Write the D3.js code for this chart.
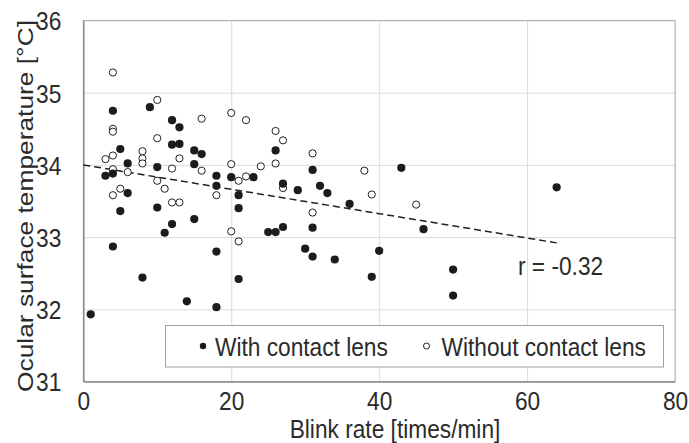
<!DOCTYPE html>
<html>
<head>
<meta charset="utf-8">
<script src="https://cdn.jsdelivr.net/npm/d3@7"></script>
<style>
  body { margin: 0; background: #fff; }
  text { font-family: "Liberation Sans", Arial, sans-serif; fill: #2b2b2b; }
</style>
</head>
<body>
<div id="chart"></div>
<script>
/* Blink rate vs ocular surface temperature */

// with contact lens: [blink rate, temperature]
const withLens = [
  [1, 31.93], [4, 34.75], [9, 34.80], [12, 34.62], [13, 34.52], [12, 34.28], [13, 34.29],
  [5, 34.22], [6, 34.02], [10, 33.97], [15, 34.20], [16, 34.15], [15, 34.01], [3, 33.85],
  [4, 33.88], [6, 33.61], [5, 33.36], [10, 33.41], [15, 33.25], [12, 33.18], [11, 33.06],
  [4, 32.87], [8, 32.44], [14, 32.11], [26, 34.20], [18, 33.85], [18, 33.71], [20, 33.83],
  [23, 33.83], [27, 33.74], [29, 33.65], [32, 33.71], [21, 33.58], [21, 33.40], [31, 33.13],
  [25, 33.07], [26, 33.07], [27, 33.14], [18, 32.80], [30, 32.84], [31, 32.73], [21, 32.42],
  [18, 32.03], [31, 33.93], [43, 33.96], [33, 33.61], [36, 33.46], [34, 32.69], [40, 32.81],
  [39, 32.45], [46, 33.11], [64, 33.69], [50, 32.55], [50, 32.19]
];

// without contact lens
const withoutLens = [
  [4, 35.28], [10, 34.90], [4, 34.50], [4, 34.46], [16, 34.64], [10, 34.37], [8, 34.19],
  [8, 34.09], [8, 34.02], [3, 34.08], [4, 34.13], [12, 33.95], [13, 34.09], [16, 33.92],
  [4, 33.94], [6, 33.90], [10, 33.78], [11, 33.67], [5, 33.67], [4, 33.58], [12, 33.48],
  [13, 33.48], [20, 34.72], [22, 34.62], [26, 34.47], [27, 34.34], [31, 34.16], [20, 34.01],
  [24, 33.98], [26, 34.02], [18, 33.58], [21, 33.78], [22, 33.84], [27, 33.68], [20, 33.08],
  [21, 32.94], [31, 33.34], [38, 33.92], [39, 33.59], [45, 33.45]
];

// dashed trend line end points
const trendX = [0, 64];
const trendY = [34.0, 32.92];

const xTicks = [0, 20, 40, 60, 80];
const yTicks = [31, 32, 33, 34, 35, 36];
const legendLabels = ["With contact lens", "Without contact lens"];
const rLabel = "r = -0.32";

const width = 689, height = 443,
    margin = ({ top: 20.5, right: 14, bottom: 61.5, left: 83.3 });
const sy = 1.16;   // the figure is stretched a little vertically
const fs = 22.7;

const svg = d3.select("#chart")
    .append("svg")
    .attr("width", width)
    .attr("height", height);

let x = d3.scaleLinear()
    .domain([0, 80])
    .range([margin.left, width - margin.right]);

let y = d3.scaleLinear()
    .domain([31, 36])
    .range([height - margin.bottom, margin.top]);

/* grid */
svg.append("g")
  .attr("transform", `translate(0,${height - margin.bottom})`)
  .call(d3.axisBottom(x).tickValues(xTicks).tickSize(-(height - margin.bottom - margin.top)).tickFormat(""))
  .call(g => g.select(".domain").remove())
  .call(g => g.selectAll("line").attr("stroke", "#dcdcdc"));

svg.append("g")
  .attr("transform", `translate(${margin.left},0)`)
  .call(d3.axisLeft(y).tickValues(yTicks).tickSize(-(width - margin.right - margin.left)).tickFormat(""))
  .call(g => g.select(".domain").remove())
  .call(g => g.selectAll("line").attr("stroke", "#dcdcdc"));

/* frame */
svg.append("rect")
  .attr("x", x(0)).attr("y", y(36))
  .attr("width", x(80) - x(0)).attr("height", y(31) - y(36))
  .attr("fill", "none").attr("stroke", "#b0b0b0");

/* axes */
svg.append("g")
  .attr("transform", `translate(0,${height - margin.bottom})`)
  .call(d3.axisBottom(x).tickValues(xTicks).tickSize(0).tickFormat(d3.format("d")))
  .call(g => g.select(".domain").attr("stroke", "#8c8c8c").attr("stroke-width", 1.5))
  .call(g => g.selectAll("text")
      .attr("y", 29 / sy).attr("dy", 0)
      .attr("transform", `scale(1,${sy})`)
      .style("font-size", fs + "px").style("font-family", "'Liberation Sans', Arial").attr("fill", "#2b2b2b"));

svg.append("g")
  .attr("transform", `translate(${margin.left},0)`)
  .call(d3.axisLeft(y).tickValues(yTicks).tickSize(0).tickPadding(22).tickFormat(d3.format("d")))
  .call(g => g.select(".domain").attr("stroke", "#8c8c8c").attr("stroke-width", 1.5))
  .call(g => g.selectAll("text")
      .attr("dy", "0.36em")
      .attr("transform", `scale(1,${sy})`)
      .style("font-size", fs + "px").style("font-family", "'Liberation Sans', Arial").attr("fill", "#2b2b2b"));

/* axis labels */
svg.append("text")
  .attr("text-anchor", "middle")
  .attr("transform", `translate(395,437.5) scale(1,${sy})`)
  .style("font-size", fs + "px")
  .text("Blink rate [times/min]");

svg.append("text")
  .attr("text-anchor", "middle")
  .attr("transform", `translate(33,206) rotate(-90) scale(${sy},1)`)
  .style("font-size", fs + "px")
  .text("Ocular surface temperature [\u00B0C]");

/* trend line */
let line = d3.line()
  .x(d => x(d[0]))
  .y(d => y(d[1]));

svg.append("path")
  .datum(d3.zip(trendX, trendY))
  .attr("d", line)
  .attr("fill", "none")
  .attr("stroke", "#222")
  .attr("stroke-width", 1.5)
  .attr("stroke-dasharray", "7,4");

/* points */
svg.append("g")
  .selectAll("circle")
  .data(withoutLens)
  .join("circle")
    .attr("cx", d => x(d[0]))
    .attr("cy", d => y(d[1]))
    .attr("r", 3.6)
    .attr("fill", "#fff")
    .attr("stroke", "#222")
    .attr("stroke-width", 1);

svg.append("g")
  .selectAll("circle")
  .data(withLens)
  .join("circle")
    .attr("cx", d => x(d[0]))
    .attr("cy", d => y(d[1]))
    .attr("r", 4.1)
    .attr("fill", "#1c1c1c");

svg.append("text")
  .attr("transform", `translate(518,275) scale(1,${sy})`)
  .style("font-size", fs + "px")
  .text(rLabel);

/* legend */
const lg = svg.append("g");
lg.append("rect")
  .attr("x", 165.5).attr("y", 325.5)
  .attr("width", 498).attr("height", 41.5)
  .attr("fill", "#fff").attr("stroke", "#a0a0a0");

lg.append("circle").attr("cx", 203).attr("cy", 346).attr("r", 3.2).attr("fill", "#1c1c1c");
lg.append("circle").attr("cx", 426.5).attr("cy", 346).attr("r", 3).attr("fill", "#fff")
  .attr("stroke", "#222").attr("stroke-width", 1);

lg.append("text")
  .attr("transform", `translate(215,355.5) scale(1,${sy})`)
  .style("font-size", fs + "px")
  .text(legendLabels[0]);
lg.append("text")
  .attr("transform", `translate(441.5,355.5) scale(1,${sy})`)
  .style("font-size", fs + "px")
  .text(legendLabels[1]);
</script>
</body>
</html>
